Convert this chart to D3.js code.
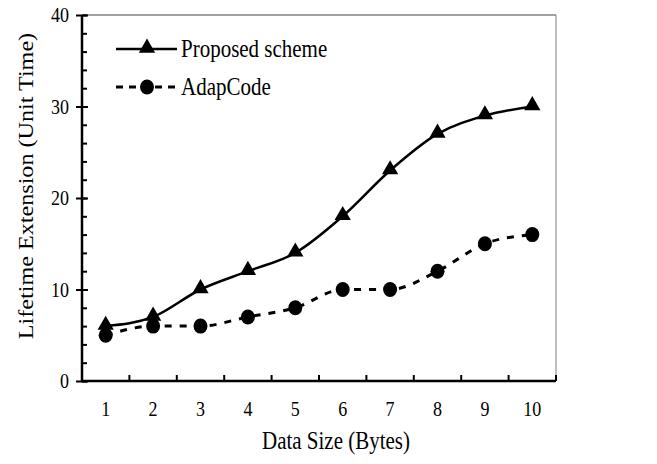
<!DOCTYPE html>
<html>
<head>
<meta charset="utf-8">
<script src="https://cdn.jsdelivr.net/npm/d3@7"></script>
<style>
  body { margin: 0; background: #fff; }
  svg text { font-family: "Liberation Serif", "Times New Roman", serif; fill: #000; }
</style>
</head>
<body>
<div id="chart"></div>
<script>
const dataSizes = [1, 2, 3, 4, 5, 6, 7, 8, 9, 10]
const proposed = [6, 7, 10, 12, 14, 18, 23, 27, 29, 30]
const adapCode = [5, 6, 6, 7, 8, 10, 10, 12, 15, 16]
const yMajorTicks = [0, 10, 20, 30, 40]
const yMinorTicks = d3.range(0, 41, 2)

const width = 657, height = 464
const margin = ({ top: 15, right: 101, bottom: 83, left: 82 })
const stretch = 1.15   // text in the source is a bit taller than wide

const svg = d3.select('#chart')
    .append('svg')
    .attr('width', width)
    .attr('height', height)

const x = d3.scaleBand()
    .domain(dataSizes)
    .range([margin.left, width - margin.right])
const y = d3.scaleLinear()
    .domain([0, 40])
    .range([height - margin.bottom, margin.top])
const cx = d => x(d) + x.bandwidth() / 2

// plot frame (grey top/right)
svg.append('line')
    .attr('x1', margin.left).attr('x2', width - margin.right)
    .attr('y1', y(40)).attr('y2', y(40))
    .attr('stroke', '#808080').attr('stroke-width', 1.5)
svg.append('line')
    .attr('x1', width - margin.right).attr('x2', width - margin.right)
    .attr('y1', y(40)).attr('y2', y(0))
    .attr('stroke', '#808080').attr('stroke-width', 1)

// y axis: minor ticks inside, major ticks crossing
svg.append('g')
    .attr('transform', `translate(${margin.left},0)`)
    .call(d3.axisRight(y).tickValues(yMinorTicks).tickSize(5).tickFormat(''))
    .call(g => g.select('.domain').remove())
    .call(g => g.selectAll('line').attr('stroke-width', 2))
svg.append('g')
    .attr('transform', `translate(${margin.left},0)`)
    .call(d3.axisLeft(y).tickValues(yMajorTicks).tickSize(6).tickPadding(7))
    .call(g => g.select('.domain').attr('stroke-width', 2.5).attr('d', `M0,${y(0)}V${y(40)}`))
    .call(g => g.selectAll('.tick line').attr('x2', -6).attr('x1', 6).attr('stroke-width', 2))
    .call(g => g.selectAll('text')
        .attr('font-size', 18)
        .attr('dy', null)
        .attr('y', 0)
        .attr('transform', `scale(1,${stretch}) translate(0,6)`))

// x axis: ticks at band boundaries pointing up
const xAxis = svg.append('g')
    .attr('transform', `translate(0,${y(0)})`)
xAxis.append('line')
    .attr('x1', margin.left).attr('x2', width - margin.right)
    .attr('stroke', '#000').attr('stroke-width', 2.5)
xAxis.selectAll('.xtick')
    .data(dataSizes)
    .join('line')
    .attr('class', 'xtick')
    .attr('x1', d => x(d) + x.bandwidth()).attr('x2', d => x(d) + x.bandwidth())
    .attr('y1', 0).attr('y2', -6)
    .attr('stroke', '#000').attr('stroke-width', 2)
xAxis.selectAll('.xlabel')
    .data(dataSizes)
    .join('text')
    .attr('class', 'xlabel')
    .attr('transform', d => `translate(${cx(d)},35) scale(1,${stretch})`)
    .attr('text-anchor', 'middle')
    .attr('font-size', 18)
    .text(d => d)

svg.append('text')
    .attr('transform', `translate(336,449) scale(1,${stretch})`)
    .attr('text-anchor', 'middle')
    .attr('font-size', 21)
    .text('Data Size (Bytes)')
svg.append('text')
    .attr('transform', `translate(33,186) rotate(-90) scale(${stretch},1)`)
    .attr('text-anchor', 'middle')
    .attr('font-size', 21)
    .text('Lifetime Extension (Unit Time)')

const line = d3.line()
    .x((d, i) => cx(dataSizes[i]))
    .y(d => y(d))
    .curve(d3.curveMonotoneX)

svg.append('path')
    .datum(adapCode)
    .attr('fill', 'none')
    .attr('stroke', '#000')
    .attr('stroke-width', 3)
    .attr('stroke-dasharray', '7,8')
    .attr('d', line)
svg.append('path')
    .datum(proposed)
    .attr('fill', 'none')
    .attr('stroke', '#000')
    .attr('stroke-width', 2.5)
    .attr('d', line)

const tri = d3.symbol().type(d3.symbolTriangle).size(115)
svg.selectAll('.pt-a')
    .data(adapCode)
    .join('ellipse')
    .attr('cx', (d, i) => cx(dataSizes[i]))
    .attr('cy', d => y(d))
    .attr('rx', 7)
    .attr('ry', 7.5)
svg.selectAll('.pt-p')
    .data(proposed)
    .join('path')
    .attr('transform', (d, i) => `translate(${cx(dataSizes[i])},${y(d) - 1})`)
    .attr('d', tri)

// legend
const legend = svg.append('g')
const items = [
    { name: 'Proposed scheme', dash: null, sym: 'tri', yy: 49 },
    { name: 'AdapCode', dash: '7,6', sym: 'circle', yy: 87 }
]
items.forEach(it => {
    legend.append('line')
        .attr('x1', 116).attr('x2', 177)
        .attr('y1', it.yy).attr('y2', it.yy)
        .attr('stroke', '#000')
        .attr('stroke-width', it.dash ? 3 : 2.5)
        .attr('stroke-dasharray', it.dash)
    if (it.sym === 'tri')
        legend.append('path').attr('transform', `translate(147,${it.yy - 1})`).attr('d', tri)
    else
        legend.append('ellipse').attr('cx', 147).attr('cy', it.yy).attr('rx', 7).attr('ry', 7.5)
    legend.append('text')
        .attr('transform', `translate(181,${it.yy + 8}) scale(1,${stretch})`)
        .attr('font-size', 21)
        .text(it.name)
})
</script>
</body>
</html>
